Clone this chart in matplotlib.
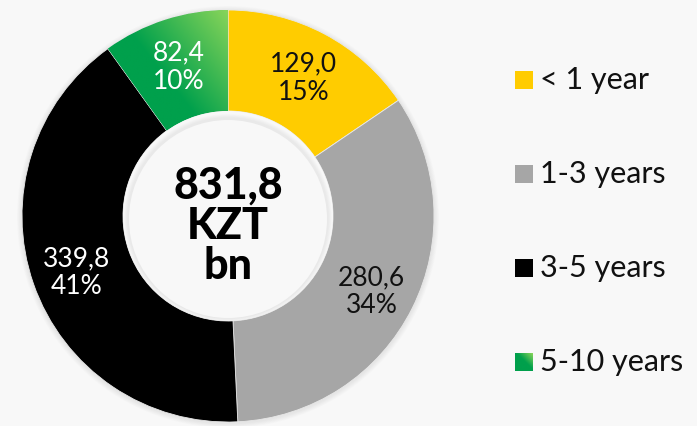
import matplotlib.pyplot as plt
import numpy as np
from matplotlib.patches import Rectangle, Circle

categories = ['< 1 year', '1-3 years', '3-5 years', '5-10 years']
values = [129.0, 280.6, 339.8, 82.4]
value_labels = ['129,0', '280,6', '339,8', '82,4']
pct_labels = ['15%', '34%', '41%', '10%']
total_label = '831,8\nKZT\nbn'

colors = ['#ffcc00', '#a6a6a6', '#000000', '#00a04c']
text_colors = ['#111111', '#111111', '#ffffff', '#ffffff']
bg = '#f8f8f8'

W, H = 697, 426
fig = plt.figure(figsize=(W / 100, H / 100), dpi=100, facecolor=bg)
ax = fig.add_axes([0, 0, 1, 1])
ax.set_facecolor(bg)

cx, cy = 228, H - 216
r_out, r_in = 206, 105

# soft shadow around the ring
for i in range(6):
    ax.add_patch(Circle((cx, cy - 1), r_out + 1 + i * 0.8, color='k',
                        alpha=0.012, lw=0, zorder=0))

labels = [f'{v}\n{p}' for v, p in zip(value_labels, pct_labels)]
wedges, texts = ax.pie(values, colors=colors, startangle=90, counterclock=False,
                       radius=r_out, center=(cx, cy), labels=labels,
                       labeldistance=0.78,
                       wedgeprops=dict(width=r_out - r_in, edgecolor='#e8e8e8',
                                       linewidth=0.6))
for t, c in zip(texts, text_colors):
    x, y = t.get_position()
    t.set_position((x, y - 4))
    t.set_ha('center')
    t.set_va('center')
    t.set_color(c)
    t.set_fontsize(19)
    t.set_family('Lato')
    t.set_fontweight('normal')
    t.set_linespacing(1.15)
    t.set_zorder(5)

# green gradient in the 5-10 years wedge
gw = wedges[3]
gx, gy = np.meshgrid(np.linspace(0, 1, 200), np.linspace(0, 1, 200))
grad = np.clip((gx + gy - 1.1) / 0.9, 0, 1)
dark = np.array([0x00, 0xa0, 0x4c]) / 255
light = np.array([0x8c, 0xd6, 0x5a]) / 255
img = dark + (light - dark) * grad[..., None]
im = ax.imshow(img, extent=(cx - 130, cx + 2, cy + 40, cy + r_out + 2),
               origin='lower', zorder=2, interpolation='bilinear')
im.set_clip_path(gw)

# faint inner shadow of the hole
ax.add_patch(Circle((cx, cy), r_in, color=bg, lw=0, zorder=3))
for i in range(5):
    ax.add_patch(Circle((cx, cy - 2), r_in - 1 - i * 0.8, color='k',
                        alpha=0.01, lw=0, zorder=3))
ax.add_patch(Circle((cx, cy - 3), r_in - 6, color=bg, lw=0, zorder=3))

ax.text(cx, cy - 10, total_label, ha='center', va='center', fontsize=31,
        fontweight='black', family='Lato', linespacing=1.0, color='#000000',
        zorder=6)

ax.set_xlim(0, W)
ax.set_ylim(0, H)
ax.set_aspect('auto')
ax.axis('off')

# legend
row_y = [80, 174, 268, 362]
for i, (name, col) in enumerate(zip(categories, colors)):
    y = H - row_y[i]
    sq = Rectangle((515, y - 9), 18, 18, color=col, lw=0, zorder=4)
    ax.add_patch(sq)
    if i == 3:
        sq_img = ax.imshow(img, extent=(515, 533, y - 9, y + 9), origin='lower',
                           zorder=5, interpolation='bilinear')
        sq_img.set_clip_path(sq)
    ax.text(540, y, name, ha='left', va='center', fontsize=22, family='Lato',
            color='#111111')

ax.set_xlim(0, W)
ax.set_ylim(0, H)
fig.savefig('out.png', dpi=100, facecolor=bg)
